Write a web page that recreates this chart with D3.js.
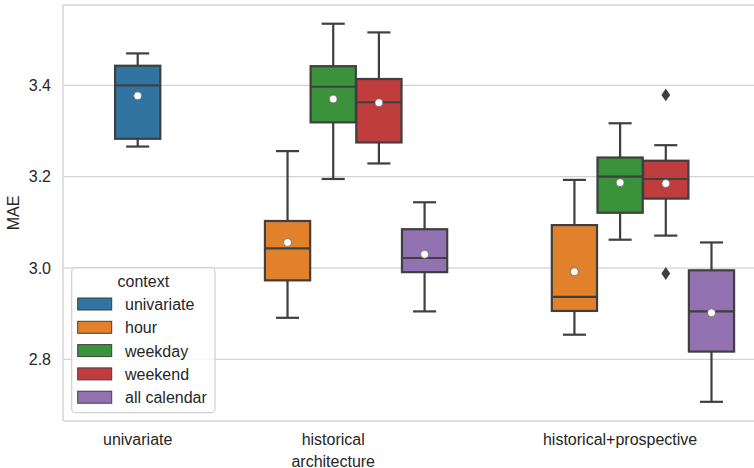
<!DOCTYPE html>
<html>
<head>
<meta charset="utf-8">
<script src="https://cdn.jsdelivr.net/npm/d3@7"></script>
<style>
  html, body { margin: 0; padding: 0; background: #fff; }
  svg { display: block; font-family: "Liberation Sans", Arial, sans-serif; }
</style>
</head>
<body>
<svg id="chart" width="754" height="468"></svg>
<script>
// Architectures on the x axis and context (hue) levels
const categories = ["univariate", "historical", "historical+prospective"];
const hues = ["univariate", "hour", "weekday", "weekend", "all calendar"];
const hueColors = ["#3274a1", "#e1812c", "#3a923a", "#c03d3e", "#9372b2"];

// One entry per box: architecture, context and its summary statistics (MAE)
const boxCategory = ["univariate",
  "historical", "historical", "historical", "historical",
  "historical+prospective", "historical+prospective", "historical+prospective", "historical+prospective"];
const boxHue = ["univariate",
  "hour", "weekday", "weekend", "all calendar",
  "hour", "weekday", "weekend", "all calendar"];
const whiskerLow  = [3.266, 2.891, 3.195, 3.229, 2.905, 2.854, 3.062, 3.071, 2.707];
const quart1      = [3.283, 2.973, 3.319, 3.275, 2.991, 2.906, 3.121, 3.152, 2.817];
const medians     = [3.400, 3.043, 3.397, 3.363, 3.022, 2.937, 3.200, 3.195, 2.905];
const quart3      = [3.443, 3.103, 3.442, 3.414, 3.085, 3.094, 3.242, 3.235, 2.995];
const whiskerHigh = [3.470, 3.256, 3.535, 3.516, 3.144, 3.193, 3.317, 3.269, 3.056];
const means       = [3.377, 3.056, 3.370, 3.362, 3.030, 2.992, 3.187, 3.185, 2.902];
const outliers    = [[], [], [], [], [], [], [], [3.379, 2.988], []];

const yTicks = [2.8, 3.0, 3.2, 3.4];
const yLabel = "MAE";
const xLabel = "architecture";
const legendTitle = "context";

const svg = d3.select("#chart");
const W = 754, H = 468;
const plot = { left: 63, right: 780, top: 5, bottom: 421 };

const lineColor = "#3f3f3f";
const gridColor = "#d3d3d3";
const textColor = "#262626";

// Slot layout: boxes of one architecture sit side by side, architectures separated by a gap
const gapSlots = 2.28;
const boxes = boxCategory.map((c, i) => ({
  category: c, hue: boxHue[i],
  lo: whiskerLow[i], q1: quart1[i], med: medians[i], q3: quart3[i], hi: whiskerHigh[i],
  mean: means[i], out: outliers[i]
}));
let slot = 0;
const catAnchor = {};
categories.forEach((c, ci) => {
  const members = boxes.filter(b => b.category === c)
    .sort((a, b) => hues.indexOf(a.hue) - hues.indexOf(b.hue));
  if (ci > 0) slot += gapSlots;
  members.forEach((b, k) => { b.slot = slot + k; if (k > 0 || members.length === 1) {} });
  catAnchor[c] = members[Math.min(1, members.length - 1)].slot;
  slot = members[members.length - 1].slot + 1;
});
const lastSlot = d3.max(boxes, b => b.slot);

const x = d3.scaleLinear().domain([-1.635, lastSlot + 1.5]).range([plot.left, plot.right]);
const y = d3.scaleLinear().domain([2.665, 3.576]).range([plot.bottom, plot.top]);
const color = d3.scaleOrdinal().domain(hues).range(hueColors);

const slotW = x(1) - x(0);
const boxW = slotW * 0.99;
const capW = boxW * 0.51;

// Horizontal grid lines
svg.append("g").selectAll("line").data(yTicks).join("line")
  .attr("x1", plot.left).attr("x2", plot.right)
  .attr("y1", d => y(d)).attr("y2", d => y(d))
  .attr("stroke", gridColor).attr("stroke-width", 1.3);

// Axes frame (left, top, bottom spines)
const frame = svg.append("g").attr("stroke", gridColor).attr("stroke-width", 1.4).attr("fill", "none");
frame.append("line").attr("x1", plot.left).attr("x2", plot.left).attr("y1", plot.top).attr("y2", plot.bottom);
frame.append("line").attr("x1", plot.left).attr("x2", plot.right).attr("y1", plot.top).attr("y2", plot.top);
frame.append("line").attr("x1", plot.left).attr("x2", plot.right).attr("y1", plot.bottom).attr("y2", plot.bottom);

// Y axis tick labels
const yAxis = d3.axisLeft(y).tickValues(yTicks).tickFormat(d3.format(".1f")).tickSize(0).tickPadding(12);
const yG = svg.append("g").attr("transform", `translate(${plot.left},0)`).call(yAxis);
yG.select(".domain").remove();
yG.selectAll("text").attr("font-size", 16).attr("fill", textColor)
  .attr("font-family", "'Liberation Sans', Arial, sans-serif");

// X axis tick labels
const xG = svg.append("g");
xG.selectAll("text").data(categories).join("text")
  .attr("x", d => x(catAnchor[d])).attr("y", 445)
  .attr("text-anchor", "middle").attr("font-size", 16).attr("fill", textColor)
  .text(d => d);

// Axis titles
svg.append("text").attr("transform", `translate(18.5,${(plot.top + plot.bottom) / 2}) rotate(-90)`)
  .attr("text-anchor", "middle").attr("font-size", 16).attr("fill", textColor).text(yLabel);
svg.append("text").attr("x", x(catAnchor["historical"])).attr("y", 467)
  .attr("text-anchor", "middle").attr("font-size", 16).attr("fill", textColor).text(xLabel);

// Box plots
const g = svg.append("g");
const bx = g.selectAll("g.box").data(boxes).join("g").attr("class", "box");
bx.append("line") // lower whisker
  .attr("x1", d => x(d.slot)).attr("x2", d => x(d.slot))
  .attr("y1", d => y(d.q1)).attr("y2", d => y(d.lo))
  .attr("stroke", lineColor).attr("stroke-width", 2.2);
bx.append("line") // upper whisker
  .attr("x1", d => x(d.slot)).attr("x2", d => x(d.slot))
  .attr("y1", d => y(d.q3)).attr("y2", d => y(d.hi))
  .attr("stroke", lineColor).attr("stroke-width", 2.2);
bx.append("line") // lower cap
  .attr("x1", d => x(d.slot) - capW / 2).attr("x2", d => x(d.slot) + capW / 2)
  .attr("y1", d => y(d.lo)).attr("y2", d => y(d.lo))
  .attr("stroke", lineColor).attr("stroke-width", 2.2);
bx.append("line") // upper cap
  .attr("x1", d => x(d.slot) - capW / 2).attr("x2", d => x(d.slot) + capW / 2)
  .attr("y1", d => y(d.hi)).attr("y2", d => y(d.hi))
  .attr("stroke", lineColor).attr("stroke-width", 2.2);
bx.append("rect")
  .attr("x", d => x(d.slot) - boxW / 2).attr("width", boxW)
  .attr("y", d => y(d.q3)).attr("height", d => y(d.q1) - y(d.q3))
  .attr("fill", d => color(d.hue)).attr("stroke", lineColor).attr("stroke-width", 2.2);
bx.append("line") // median
  .attr("x1", d => x(d.slot) - boxW / 2).attr("x2", d => x(d.slot) + boxW / 2)
  .attr("y1", d => y(d.med)).attr("y2", d => y(d.med))
  .attr("stroke", lineColor).attr("stroke-width", 2.2);
bx.append("circle") // mean
  .attr("cx", d => x(d.slot)).attr("cy", d => y(d.mean)).attr("r", 4)
  .attr("fill", "#fff").attr("stroke", "#555").attr("stroke-width", 0.7);
// Outliers as thin diamonds
bx.selectAll("path.flier").data(d => d.out.map(v => ({ slot: d.slot, v }))).join("path")
  .attr("class", "flier")
  .attr("d", d => {
    const cx = x(d.slot), cy = y(d.v), hw = 4.4, hh = 6.4;
    return `M${cx},${cy - hh}L${cx + hw},${cy}L${cx},${cy + hh}L${cx - hw},${cy}Z`;
  })
  .attr("fill", lineColor);

// Legend
const leg = svg.append("g");
const legX = 71.7, legY = 267.7, legW = 143.3, legH = 145;
leg.append("rect").attr("x", legX).attr("y", legY).attr("width", legW).attr("height", legH)
  .attr("rx", 4).attr("fill", "#fff").attr("fill-opacity", 0.8)
  .attr("stroke", "#d0d0d0").attr("stroke-width", 1.2);
leg.append("text").attr("x", legX + legW / 2).attr("y", 287.3)
  .attr("text-anchor", "middle").attr("font-size", 16).attr("fill", textColor).text(legendTitle);
const rows = leg.selectAll("g.row").data(hues).join("g").attr("class", "row")
  .attr("transform", (d, i) => `translate(0,${304 + i * 23.3})`);
rows.append("rect").attr("x", 77.7).attr("y", -6).attr("width", 34).attr("height", 12)
  .attr("fill", d => color(d)).attr("stroke", lineColor).attr("stroke-width", 1);
rows.append("text").attr("x", 125).attr("y", 6)
  .attr("font-size", 16).attr("fill", textColor).text(d => d);
</script>
</body>
</html>
